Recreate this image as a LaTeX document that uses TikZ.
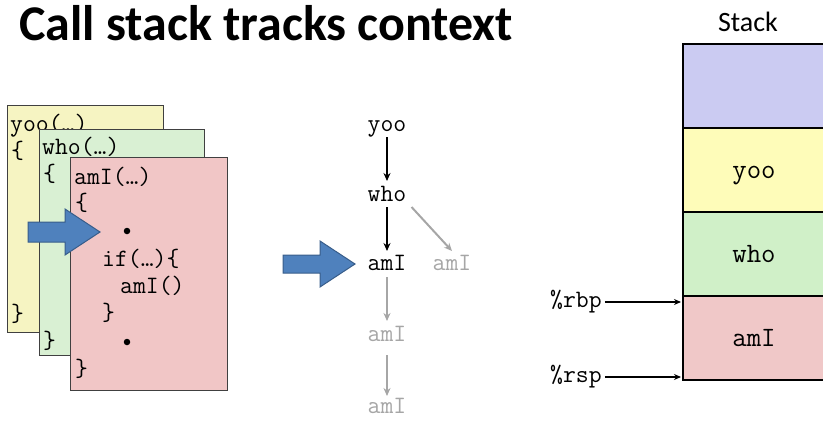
\documentclass[tikz,border=0pt]{standalone}
\usepackage{fontspec}
\setmainfont{Carlito}
\usetikzlibrary{arrows.meta}
\definecolor{cardY}{HTML}{F6F4C2}
\definecolor{cardG}{HTML}{D9F0D3}
\definecolor{cardR}{HTML}{F1C6C6}
\definecolor{stB}{HTML}{CBCBF2}
\definecolor{stY}{HTML}{FEFCB9}
\definecolor{stG}{HTML}{D0F0C8}
\definecolor{stR}{HTML}{F0C8C8}
\definecolor{bluefill}{HTML}{4F81BD}
\definecolor{blueline}{HTML}{385D8A}
\definecolor{lightgray}{HTML}{A6A6A6}
\newcommand{\cf}{\ttfamily\fontsize{25}{28}\selectfont}
\tikzset{
  card/.style={draw=black!75, line width=0.8pt},
  code/.style={font=\cf, inner sep=0pt, anchor=mid west},
  dot/.style={circle, fill=black, inner sep=0pt, minimum size=6.5pt},
  tree/.style={font=\cf, inner sep=0pt, anchor=mid},
  gtree/.style={tree, text=lightgray},
  barrow/.style={draw=black, line width=2pt, -{Stealth[length=8pt,width=7pt]}},
  garrow/.style={draw=lightgray, line width=2pt, -{Stealth[length=8pt,width=7pt]}},
  cell/.style={draw=black, line width=1.6pt},
  celltext/.style={font=\ttfamily\fontsize{28}{30}\selectfont, inner sep=0pt, anchor=mid},
  bigarrow/.style={fill=bluefill, draw=blueline, line width=1pt},
  ptr/.style={draw=black, line width=1.8pt, -{Stealth[length=7pt,width=6pt]}}
}
\begin{document}
\begin{tikzpicture}[x=1pt,y=-1pt]
\useasboundingbox (0,0) rectangle (823,423);
\clip (0,0) rectangle (823,423);
% title
\node[font=\bfseries\fontsize{50}{56}\selectfont, anchor=base west, inner sep=0pt] (title) at (19,41) {Call stack tracks context};
% cards
\draw[card, fill=cardY] (7,105) rectangle (163,332);
\node[code] (y1) at (10,129) {yoo(…)};
\node[code] (y2) at (11,156) {\{};
\node[code] (y3) at (11,319) {\}};
\draw[card, fill=cardG] (39,129) rectangle (204,355);
\node[code] (g1) at (42,152) {who(…)};
\node[code] (g2) at (43,179) {\{};
\node[code] (g3) at (43,346) {\}};
\draw[card, fill=cardR] (70,157) rectangle (227,390);
\node[code] (r1) at (74,182) {amI(…)};
\node[code] (r2) at (75,208) {\{};
\node[dot] (r3) at (127,231) {};
\node[code] (r4) at (102,264) {if(…)\{};
\node[code] (r5) at (120,291) {amI()};
\node[code] (r6) at (102,318) {\}};
\node[dot] (r7) at (127,342) {};
\node[code] (r8) at (75,374) {\}};
% left blue arrow
\draw[bigarrow] (28,222) -- (65,222) -- (65,209) -- (100,232) -- (65,255) -- (65,242) -- (28,242) -- cycle;
% middle blue arrow
\draw[bigarrow] (283,255) -- (320,255) -- (320,241) -- (355,264) -- (320,287) -- (320,273) -- (283,273) -- cycle;
% tree
\node[tree] (tyoo) at (387,129) {yoo};
\node[tree] (twho) at (387,199) {who};
\node[tree] (tami) at (387,268) {amI};
\node[gtree] (tside) at (452,268) {amI};
\node[gtree] (tami2) at (387,339) {amI};
\node[gtree] (tami3) at (387,411) {amI};
\draw[barrow] (tyoo.south |- 0,137) -- (twho.north |- 0,181);
\draw[barrow] (twho.south |- 0,207) -- (tami.north |- 0,251);
\draw[garrow] (twho.south east |- 0,207) ++(5,0) -- (tside.north |- 0,251);
\draw[garrow] (tami.south |- 0,277) -- (tami2.north |- 0,321);
\draw[garrow] (tami2.south |- 0,355) -- (tami3.north |- 0,396);
% stack
\node[font=\fontsize{28}{32}\selectfont, inner sep=0pt, anchor=base] (stacklbl) at (748,31) {Stack};
\draw[cell, fill=stB] (683,44) rectangle (826,128);
\draw[cell, fill=stY] (683,128) rectangle (826,212);
\draw[cell, fill=stG] (683,212) rectangle (826,296);
\draw[cell, fill=stR] (683,296) rectangle (826,380);
\node[celltext] (syoo) at (754,176) {yoo};
\node[celltext] (swho) at (754,260) {who};
\node[celltext] (sami) at (754,344) {amI};
\node[code] (rbp) at (550,305) {\%rbp};
\node[code] (rsp) at (550,380) {\%rsp};
\draw[ptr] (rbp.east |- 0,302) ++(3,0) -- (681,302);
\draw[ptr] (rsp.east |- 0,377) ++(3,0) -- (681,377);
\end{tikzpicture}
\end{document}
